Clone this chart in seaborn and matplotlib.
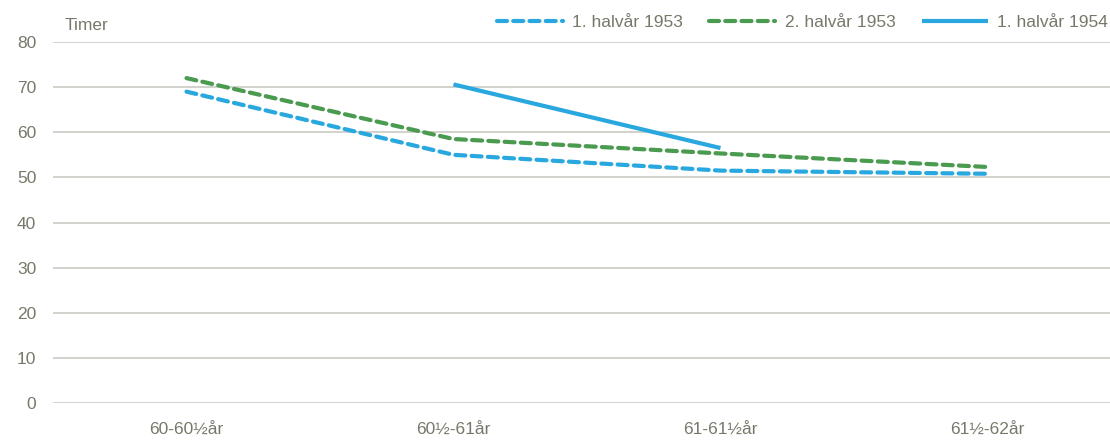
import matplotlib
matplotlib.use("Agg")
import matplotlib.pyplot as plt
import seaborn as sns
import numpy as np
import pandas as pd
from matplotlib import font_manager

categories = ["60-60½år", "60½-61år", "61-61½år", "61½-62år"]
series_names = ["1. halvår 1953", "2. halvår 1953", "1. halvår 1954"]
h1_1953 = [69.0, 55.0, 51.5, 50.8]
h2_1953 = [72.0, 58.5, 55.3, 52.3]
h1_1954 = [np.nan, 70.6, 56.5, np.nan]
yticks = [0, 10, 20, 30, 40, 50, 60, 70, 80]
y_label = "Timer"

sns.set_theme(style="white")
names = {f.name for f in font_manager.fontManager.ttflist}
fam = ["Liberation Sans Narrow", "DejaVu Sans"] if "Liberation Sans Narrow" in names else ["Liberation Sans", "DejaVu Sans"]
plt.rcParams["font.family"] = fam

text_col = "#78786a"
grid_col = "#cbcbc3"
blue = "#29a8e0"
green = "#4a9a50"

fig = plt.figure(figsize=(11.10, 4.41), dpi=100)
ax = fig.add_axes([53/1110, 38/441, 1068/1110, 361/441])

styles = [
    (series_names[0], h1_1953, blue, (2.4, 1.5)),
    (series_names[1], h2_1953, green, (2.4, 1.5)),
    (series_names[2], h1_1954, blue, None),
]
for name, vals, col, dash in styles:
    d = pd.DataFrame({"x": np.arange(len(categories)), "y": vals}).dropna()
    line = sns.lineplot(x="x", y="y", data=d, ax=ax, color=col, linewidth=3.0, label=name).lines[-1]
    if dash is not None:
        line.set_dashes(dash)
        line.set_dash_capstyle("round")
    else:
        line.set_solid_capstyle("butt")

ax.set_xlim(-0.5, 3.5)
ax.set_ylim(0, 80)
ax.set_yticks(yticks)
ax.set_xticks(np.arange(len(categories)))
ax.set_xticklabels(categories)
ax.set_xlabel("")
ax.set_ylabel("")
ax.yaxis.grid(True, color=grid_col, linewidth=1.2)
ax.set_axisbelow(True)
for s in ax.spines.values():
    s.set_visible(False)
ax.tick_params(axis="both", length=0, labelsize=12.5, labelcolor=text_col)
ax.tick_params(axis="y", pad=12)
ax.tick_params(axis="x", pad=14)

fig.text(65/1110, 1 - 25/441, y_label, fontsize=12.5, color=text_col, va="center", ha="left")

leg = ax.legend(loc="center right", bbox_to_anchor=(1108/1110, 1 - 22/441), bbox_transform=fig.transFigure,
                ncol=3, frameon=False, fontsize=12.5, handlelength=3.8, columnspacing=1.5,
                handletextpad=0.55, borderaxespad=0, borderpad=0)
for t in leg.get_texts():
    t.set_color(text_col)

fig.savefig("out.png", dpi=100)
